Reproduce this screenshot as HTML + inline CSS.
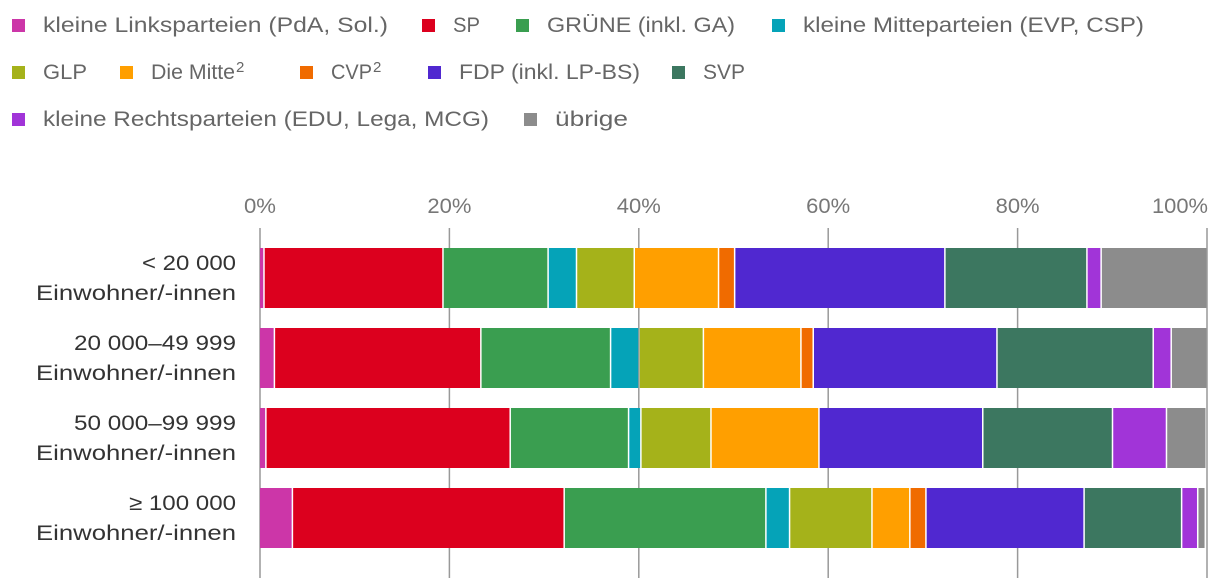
<!DOCTYPE html>
<html><head><meta charset="utf-8"><style>
body{margin:0;background:#fff;font-family:"Liberation Sans","DejaVu Sans",sans-serif;}
svg{display:block}
</style></head><body>
<svg id="c" width="1220" height="578" xmlns="http://www.w3.org/2000/svg"></svg>
<script>
const categories=[["< 20 000","Einwohner/-innen"],["20 000–49 999","Einwohner/-innen"],["50 000–99 999","Einwohner/-innen"],["≥ 100 000","Einwohner/-innen"]];
const seriesNames=["kleine Linksparteien (PdA, Sol.)","SP","GRÜNE (inkl. GA)","kleine Mitteparteien (EVP, CSP)","GLP","Die Mitte","CVP","FDP (inkl. LP-BS)","SVP","kleine Rechtsparteien (EDU, Lega, MCG)","übrige"];
const seriesColors=["#cc36a8","#dc001e","#3a9e50","#05a3b8","#a5b21a","#ff9f00","#f06b00","#5028d0","#3c7760","#a134d8","#8c8c8c"];
const row1=[0.5,18.9,11.1,3.0,6.1,8.9,1.7,22.2,15.0,1.5,11.2];
const row2=[1.6,21.8,13.7,3.0,6.8,10.3,1.3,19.4,16.5,1.9,3.8];
const row3=[0.7,25.8,12.5,1.3,7.4,11.4,0,17.3,13.7,5.7,4.2];
const row4=[3.5,28.7,21.3,2.5,8.7,4.0,1.7,16.7,10.3,1.7,0.8];
const values=[row1,row2,row3,row4];
const ticks=[0,20,40,60,80,100];
const NS="http://www.w3.org/2000/svg",svg=document.getElementById('c');
function el(t,a,p){const e=document.createElementNS(NS,t);for(const k in a)e.setAttribute(k,a[k]);(p||svg).appendChild(e);return e;}
const x0=260,x1=1207;const xs=v=>x0+(x1-x0)*v/100;
// legend
const legRows=[[0,1,2,3],[4,5,6,7,8],[9,10]];
const legX=[[12,422,516,772],[12,120,300,428,672],[12,524]];
const legW=[[345,27,188,341],[44,84,41,181,42],[446,73]];
legRows.forEach((r,ri)=>r.forEach((si,j)=>{
 const g=el('g',{});
 
 
 const y=26+ri*47;
 el('rect',{x:legX[ri][j],y:y-7,width:13,height:13,fill:seriesColors[si]},g);
 const t=el('text',{x:legX[ri][j]+31,y:y+6,'font-size':21,fill:'#666',textLength:legW[ri][j],lengthAdjust:'spacingAndGlyphs'},g);
 t.textContent=(si===5?'Die Mitte':si===6?'CVP':seriesNames[si]);
 if(si===5||si===6){const s=el('text',{x:legX[ri][j]+31+legW[ri][j]+1,y:y-1,'font-size':15,fill:'#666'},g);s.textContent='2';}
}));
// grid + ticks
ticks.forEach((v,i)=>{
 const l=el('line',{x1:xs(v),x2:xs(v),y1:228,y2:578,stroke:'#999','stroke-width':1.5});
 
 const last=i===ticks.length-1;
 const t=el('text',{x:last?xs(v)+1:xs(v),y:213,'font-size':21,fill:'#777','text-anchor':last?'end':'middle',textLength:(String(v).length*12+20),lengthAdjust:'spacingAndGlyphs'});
 
 t.textContent=v+'%';
});
// bars
const catW=[[94,200],[162,200],[162,200],[107,200]];
values.forEach((row,ri)=>{
 const y=248+ri*80;let acc=0;
 row.forEach((v,si)=>{
  if(v>0){const r=el('rect',{x:xs(acc),y:y,width:Math.max(0,xs(acc+v)-xs(acc)-1.5),height:60,fill:seriesColors[si]});
  }
  acc+=v;
 });
 categories[ri].forEach((s,k)=>{
  const t=el('text',{x:236,y:y+22+k*30,'font-size':21,fill:'#333','text-anchor':'end',textLength:catW[ri][k],lengthAdjust:'spacingAndGlyphs'});
  
  t.textContent=s;
 });
});
</script>
</body></html>
